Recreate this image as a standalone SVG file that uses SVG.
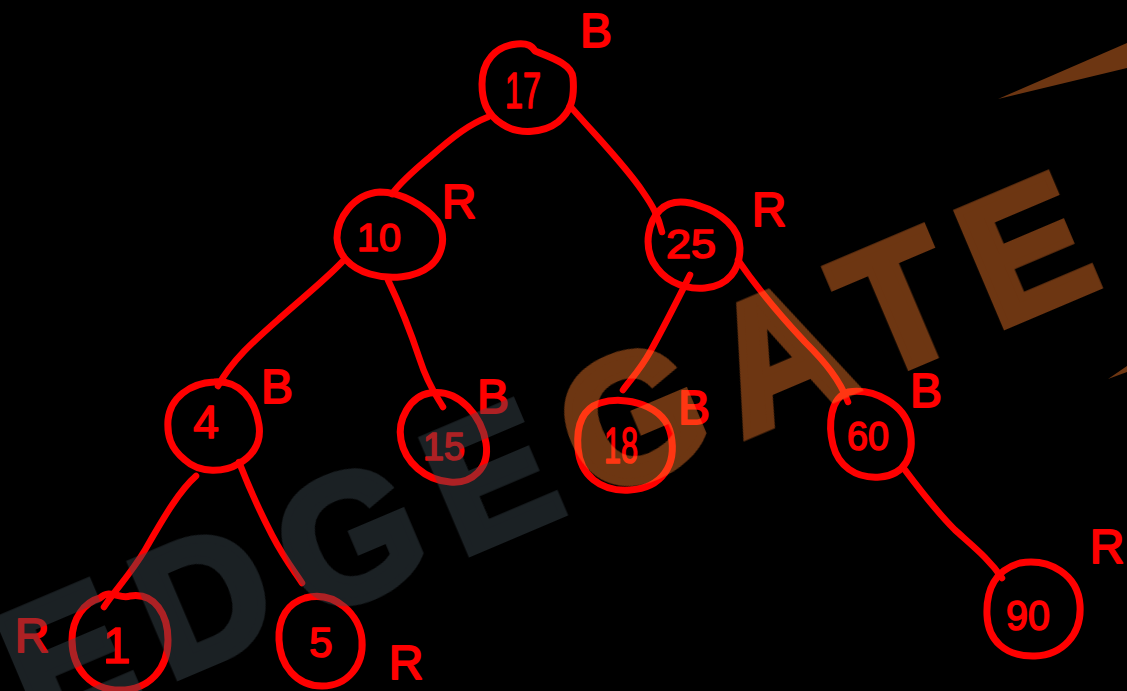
<svg xmlns="http://www.w3.org/2000/svg" width="1127" height="691" viewBox="0 0 1127 691">
<defs>
<style>
.ring{fill:none;stroke:#ff0000;stroke-width:7;stroke-linecap:round;stroke-linejoin:round}
.edge{fill:none;stroke:#ff0000;stroke-width:6.5;stroke-linecap:round;stroke-linejoin:round}
.num{fill:#ff0000;stroke:#ff0000;stroke-width:1.6;stroke-linejoin:round;font-family:"Liberation Sans",Arial,sans-serif;text-anchor:middle}
.tag{fill:#ff0000;stroke:#ff0000;stroke-width:1.8;stroke-linejoin:round;font-family:"Liberation Sans",Arial,sans-serif;font-size:48px;text-anchor:middle}
.wm{font-family:"Liberation Sans",Arial,sans-serif;font-weight:bold;font-size:178px;letter-spacing:25px;stroke-width:8;stroke-linejoin:miter}
</style>
</defs>
<rect width="1127" height="691" fill="#000"/>
<g id="connectors">
<path class="edge" d="M488,117 C470,124 455,135 430,157 C412,172 400,183 392,194"/>
<path class="edge" d="M570,106 C595,135 625,165 643,192 C652,205 658,215 662,232"/>
<path class="edge" d="M342,262 C325,280 300,300 280,318 C255,340 232,360 218,386"/>
<path class="edge" d="M388,280 C400,305 410,330 420,360 C428,385 436,395 443,407"/>
<path class="edge" d="M690,275 C680,295 665,325 650,352 C640,370 630,380 623,390"/>
<path class="edge" d="M738,260 C755,285 775,310 805,342 C825,362 840,380 848,402"/>
<path class="edge" d="M905,470 C920,490 935,510 955,530 C975,548 990,560 1002,578"/>
<path class="edge" d="M196,476 C180,490 165,515 145,550 C130,575 115,590 104,607"/>
<path class="edge" d="M239,462 C250,490 260,512 272,535 C285,560 295,572 302,583"/>
</g>
<g id="n17">
<path class="ring" d="M517,44 C528,43 532,46 535,51 C550,57 572,64 573,78 C575,100 570,112 558,122 C545,132 520,136 502,124 C486,114 482,100 482,84 C482,62 495,46 517,44 Z"/>
<text class="num" x="523" y="108" font-size="50" textLength="36" lengthAdjust="spacingAndGlyphs">17</text>
<text class="tag" x="596" y="47">B</text>
</g>
<g id="n10">
<path class="ring" d="M380,192 C400,192 425,205 438,222 C448,240 440,258 430,266 C415,278 390,280 370,274 C350,268 338,255 337,238 C337,220 352,194 380,192 Z"/>
<text class="num" x="379" y="251" font-size="38" textLength="44" lengthAdjust="spacingAndGlyphs">10</text>
<text class="tag" x="459" y="218">R</text>
</g>
<g id="n25">
<path class="ring" d="M660,210 C672,198 690,202 700,206 C720,212 740,228 740,248 C740,270 728,286 705,288 C680,290 662,278 653,262 C644,245 648,222 660,210 Z"/>
<text class="num" x="691" y="258" font-size="40" textLength="50" lengthAdjust="spacingAndGlyphs">25</text>
<text class="tag" x="769" y="226">R</text>
</g>
<g id="n4">
<path class="ring" d="M214,382 C240,380 255,400 259,425 C262,445 250,458 238,464 C225,472 200,474 185,460 C170,448 167,435 168,420 C170,398 190,383 214,382 Z"/>
<text class="num" x="206" y="438" font-size="46">4</text>
<text class="tag" x="277" y="403">B</text>
</g>
<g id="n15">
<path class="ring" d="M430,393 C460,388 482,418 486,443 C490,468 472,484 450,482 C425,480 405,462 401,440 C397,420 410,396 430,393 Z"/>
<text class="num" x="444" y="460" font-size="38" textLength="42" lengthAdjust="spacingAndGlyphs">15</text>
<text class="tag" x="493" y="413">B</text>
</g>
<g id="n18">
<path class="ring" d="M600,403 C625,395 665,405 671,435 C677,465 662,488 630,490 C600,492 580,475 578,448 C576,422 585,408 600,403 Z"/>
<text class="num" x="621" y="463" font-size="50" textLength="34" lengthAdjust="spacingAndGlyphs">18</text>
<text class="tag" x="694" y="424">B</text>
</g>
<g id="n60">
<path class="ring" d="M848,392 C875,388 905,405 910,430 C915,455 905,475 880,477 C855,479 838,465 833,445 C828,425 830,398 848,392 Z"/>
<text class="num" x="868" y="450" font-size="40" textLength="42" lengthAdjust="spacingAndGlyphs">60</text>
<text class="tag" x="926" y="407">B</text>
</g>
<g id="n1">
<path class="ring" d="M100,598 C110,588 120,600 130,596 C155,592 168,615 168,640 C168,668 150,690 120,690 C90,690 72,668 72,640 C72,618 85,602 100,598 Z"/>
<text class="num" x="117" y="663" font-size="50">1</text>
<text class="tag" x="32" y="652">R</text>
</g>
<g id="n5">
<path class="ring" d="M305,598 C335,590 360,615 362,640 C364,665 348,686 322,686 C296,686 280,665 279,640 C278,618 288,603 305,598 Z"/>
<text class="num" x="321" y="657" font-size="42">5</text>
<text class="tag" x="406" y="679">R</text>
</g>
<g id="n90">
<path class="ring" d="M1020,563 C1050,558 1078,575 1080,605 C1082,635 1062,655 1035,656 C1005,657 988,640 987,615 C986,590 995,570 1020,563 Z"/>
<text class="num" x="1028" y="630" font-size="42" textLength="44" lengthAdjust="spacingAndGlyphs">90</text>
<text class="tag" x="1107" y="563">R</text>
</g>
<g id="watermark" opacity="0.43">
<text class="wm" transform="translate(36,737) rotate(-23)"><tspan fill="#404d55" stroke="#404d55">EDGE</tspan><tspan fill="#ff7e2a" stroke="#ff7e2a">GATE</tspan></text>
<polygon points="998,99 1127,43 1127,68" fill="#ff7e2a"/>
<polygon points="1108,379 1127,366 1127,372" fill="#ff7e2a"/>
</g>
</svg>
